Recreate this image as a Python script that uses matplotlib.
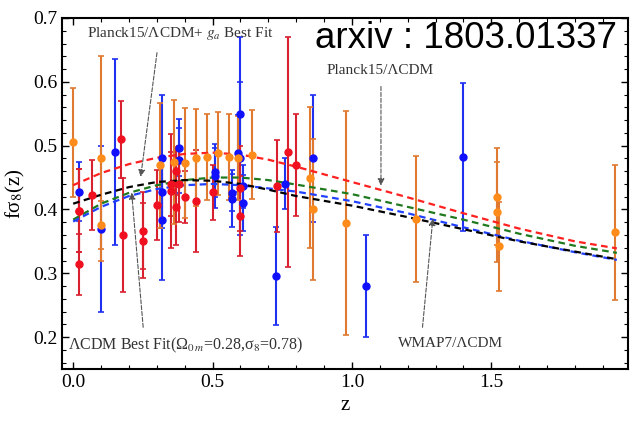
import numpy as np
import matplotlib.pyplot as plt
from matplotlib.ticker import MultipleLocator

plt.rcParams['font.family'] = ['Liberation Serif', 'DejaVu Serif']
plt.rcParams['mathtext.fontset'] = 'stix'

# growth data points (z, f sigma8, error), grouped by colour
red_z = [0.35, 0.77, 0.17, 0.02, 0.02, 0.02, 0.25, 0.37, 0.25, 0.37, 0.44,
         0.60, 0.73, 0.067, 0.30, 0.40, 0.50, 0.60, 0.80, 0.35, 0.18, 0.38]
red_fs8 = [0.440, 0.490, 0.510, 0.314, 0.398, 0.398, 0.3512, 0.4602, 0.3665,
           0.4031, 0.413, 0.390, 0.437, 0.423, 0.407, 0.419, 0.427, 0.433,
           0.470, 0.429, 0.360, 0.440]
red_err = [0.050, 0.18, 0.060, 0.048, 0.065, 0.065, 0.0583, 0.0378, 0.0601,
           0.0586, 0.080, 0.063, 0.072, 0.055, 0.055, 0.041, 0.043, 0.067,
           0.080, 0.089, 0.090, 0.060]

blue_z = [0.32, 0.32, 0.57, 0.15, 0.10, 1.40, 0.59, 0.38, 0.51, 0.61, 0.38,
          0.51, 0.61, 0.76, 1.05, 0.32, 0.57, 0.727, 0.02, 0.60, 0.86, 0.60]
blue_fs8 = [0.384, 0.48, 0.417, 0.490, 0.370, 0.482, 0.488, 0.497, 0.458,
            0.436, 0.477, 0.453, 0.410, 0.440, 0.280, 0.427, 0.426, 0.296,
            0.428, 0.48, 0.48, 0.55]
blue_err = [0.095, 0.10, 0.045, 0.145, 0.130, 0.116, 0.060, 0.045, 0.038,
            0.034, 0.051, 0.050, 0.044, 0.040, 0.080, 0.056, 0.029, 0.0765,
            0.0465, 0.12, 0.10, 0.12]

orange_z = [0.86, 0.10, 0.001, 0.85, 0.31, 0.36, 0.40, 0.44, 0.48, 0.52,
            0.56, 0.59, 0.64, 0.10, 1.52, 1.52, 0.978, 1.23, 1.526, 1.944]
orange_fs8 = [0.40, 0.48, 0.505, 0.45, 0.469, 0.474, 0.473, 0.481, 0.482,
              0.488, 0.482, 0.481, 0.486, 0.376, 0.420, 0.396, 0.379, 0.385,
              0.342, 0.364]
orange_err = [0.11, 0.16, 0.085, 0.11, 0.098, 0.097, 0.086, 0.076, 0.067,
              0.065, 0.067, 0.066, 0.070, 0.038, 0.076, 0.079, 0.176, 0.099,
              0.070, 0.106]

# model curves, values
curve_z = [0.0, 0.1, 0.2, 0.3, 0.4, 0.5, 0.6, 0.7, 0.8, 1.0, 1.2, 1.4, 1.6, 1.8, 1.95]
planck15 = [0.438, 0.457, 0.471, 0.481, 0.487, 0.489, 0.486, 0.478, 0.467,
            0.443, 0.419, 0.394, 0.370, 0.350, 0.339]
green_fit = [0.384, 0.409, 0.426, 0.438, 0.446, 0.450, 0.450, 0.446, 0.439,
             0.424, 0.404, 0.384, 0.362, 0.343, 0.332]
wmap7 = [0.381, 0.404, 0.421, 0.432, 0.438, 0.440, 0.438, 0.433, 0.428,
         0.413, 0.394, 0.372, 0.351, 0.333, 0.321]
ga_fit = [0.409, 0.423, 0.435, 0.443, 0.446, 0.445, 0.440, 0.431, 0.421,
          0.406, 0.388, 0.369, 0.350, 0.334, 0.322]

fig = plt.figure(figsize=(6.37, 4.24), dpi=100)
ax = fig.add_axes([62/637, 1 - 369/424, 566/637, 351/424])

ax.errorbar(blue_z, blue_fs8, yerr=blue_err, fmt='o', color='#1010ff', ecolor='#2030f0',
            ms=5, elinewidth=1.5, capsize=2, capthick=1.2)
ax.errorbar(red_z, red_fs8, yerr=red_err, fmt='o', color='#f01020', ecolor='#d8202e',
            ms=5, elinewidth=1.5, capsize=2, capthick=1.2)
ax.errorbar(orange_z, orange_fs8, yerr=orange_err, fmt='o', color='#ff8c1a', ecolor='#e07a30',
            ms=5, elinewidth=1.5, capsize=2, capthick=1.2)

ax.plot(curve_z, planck15, color='#ff2020', ls='--', lw=1.6, dashes=(3, 2))
ax.plot(curve_z, green_fit, color='#1f7a1f', ls='--', lw=1.6, dashes=(3, 2))
ax.plot(curve_z, wmap7, color='#2040ff', ls='--', lw=1.6, dashes=(3, 2))
ax.plot(curve_z, ga_fit, color='black', ls='--', lw=1.6, dashes=(3, 2))

# labels with dashed pointer arrows
arrow = dict(arrowstyle='-|>', color='#555555', lw=0.8, ls='--', mutation_scale=10)
tcol = '#333333'
ax.text(0.05, 0.675, 'Planck15/ΛCDM+ $g_a$ Best Fit', fontsize=11, color=tcol,
        ha='left', va='center')
ax.annotate('', xy=(0.241, 0.447), xytext=(0.302, 0.650), arrowprops=arrow)
ax.text(1.101, 0.617, 'Planck15/ΛCDM', fontsize=11, color=tcol, ha='center', va='center')
ax.annotate('', xy=(1.104, 0.433), xytext=(1.104, 0.597), arrowprops=arrow)
ax.text(-0.018, 0.187, 'ΛCDM Best Fit(Ω$_{0\\,m}$=0.28,σ$_8$=0.78)', fontsize=11.5,
        color=tcol, ha='left', va='center')
ax.annotate('', xy=(0.209, 0.431), xytext=(0.252, 0.211), arrowprops=arrow)
ax.text(1.353, 0.19, 'WMAP7/ΛCDM', fontsize=11, color=tcol, ha='center', va='center')
ax.annotate('', xy=(1.291, 0.39), xytext=(1.252, 0.211), arrowprops=arrow)

fig.text(466/637, 1 - 38/424, 'arxiv : 1803.01337', fontsize=26.5,
         family='Liberation Sans', ha='center', va='center')

ax.set_xlim(-0.04, 1.99)
ax.set_ylim(0.15, 0.7)
ax.xaxis.set_major_locator(MultipleLocator(0.5))
ax.xaxis.set_minor_locator(MultipleLocator(0.1))
ax.yaxis.set_major_locator(MultipleLocator(0.1))
ax.yaxis.set_minor_locator(MultipleLocator(0.02))
ax.tick_params(which='both', direction='in', top=True, right=True, labelsize=14)
ax.tick_params(which='major', length=5, width=1)
ax.tick_params(which='minor', length=3, width=0.8)
for s in ax.spines.values():
    s.set_linewidth(1.5)
ax.set_xlabel('z', fontsize=15)
ax.set_ylabel('fσ$_8$(z)', fontsize=15)

fig.savefig('out.png', dpi=100)
